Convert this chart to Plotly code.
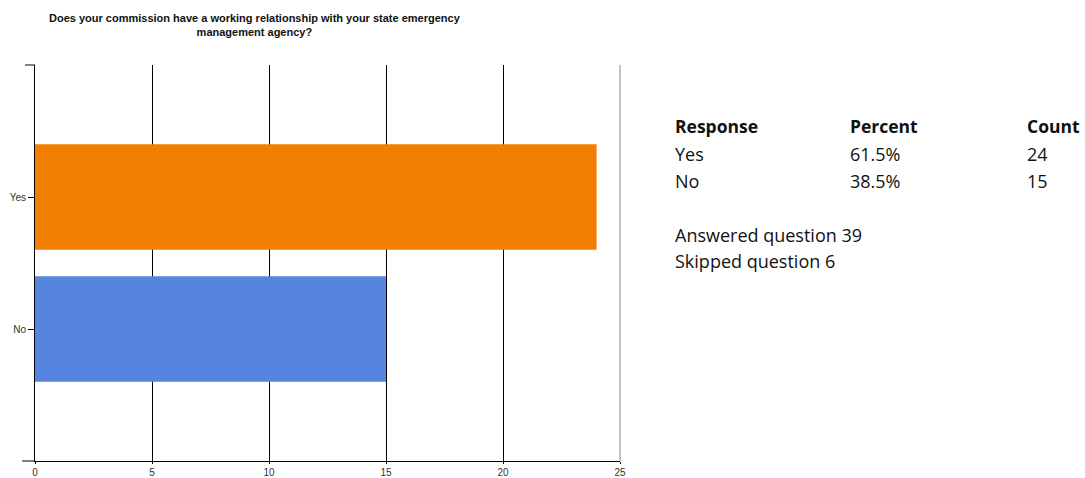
import plotly.graph_objects as go

categories = ["Yes", "No"]
counts = [24, 15]
percents = ["61.5%", "38.5%"]
bar_colors = ["#F27F02", "#5585DF"]
answered = 39
skipped = 6
x_ticks = [0, 5, 10, 15, 20, 25]

W, H = 1085, 478
L, R, T, B = 35, 620, 65, 461

fig = go.Figure()
fig.add_trace(go.Bar(
    x=counts, y=[1, 0], orientation="h", width=0.8,
    marker=dict(color=bar_colors, line=dict(width=0)),
    hoverinfo="skip", showlegend=False,
))

def px(xp):
    return (xp - L) / (R - L)

def py(yp):
    return (B - yp) / (B - T)

ann = []
ann.append(dict(text="<b>Does your commission have a working relationship with your state emergency<br>management agency?</b>",
                x=px(255), y=py(25), xref="paper", yref="paper", showarrow=False,
                font=dict(family="Liberation Sans", size=11, color="#111"),
                xanchor="center", yanchor="middle", align="center"))

tf = dict(family="Open Sans", size=18, color="#111")
hf = dict(family="Open Sans", size=17.5, color="#111")
cols = [673, 848, 1025]
heads = ["<b>Response</b>", "<b>Percent</b>", "<b>Count</b>"]
for cx, h in zip(cols, heads):
    ann.append(dict(text=h, x=px(cx), y=py(126), xref="paper", yref="paper", showarrow=False,
                    font=hf, xanchor="left", yanchor="middle"))
for i, (c, p, n) in enumerate(zip(categories, percents, counts)):
    yy = 154 + i * 27
    for cx, t in zip(cols, [c, p, str(n)]):
        ann.append(dict(text=t, x=px(cx), y=py(yy), xref="paper", yref="paper", showarrow=False,
                        font=tf, xanchor="left", yanchor="middle"))
ann.append(dict(text=f"Answered question {answered}", x=px(673), y=py(235), xref="paper", yref="paper",
                showarrow=False, font=tf, xanchor="left", yanchor="middle"))
ann.append(dict(text=f"Skipped question {skipped}", x=px(673), y=py(261), xref="paper", yref="paper",
                showarrow=False, font=tf, xanchor="left", yanchor="middle"))

fig.update_layout(
    width=W, height=H,
    margin=dict(l=L, r=W - R, t=T, b=H - B),
    paper_bgcolor="white", plot_bgcolor="white",
    annotations=ann,
    xaxis=dict(range=[0, 25], tickvals=x_ticks, ticktext=[str(v) for v in x_ticks],
               automargin=False,
               showgrid=True, gridcolor="#000", gridwidth=1, zeroline=False,
               showline=True, linecolor="#000", linewidth=1,
               ticks="outside", ticklen=2, tickcolor="#000",
               tickfont=dict(family="Liberation Sans", size=10, color="#333")),
    yaxis=dict(range=[-1, 2], tickvals=[1, 0], ticktext=categories,
               automargin=False,
               showgrid=False, zeroline=False,
               showline=True, linecolor="#000", linewidth=1,
               ticks="outside", ticklen=6, tickcolor="#000",
               tickfont=dict(family="Liberation Sans", size=10, color="#333")),
    shapes=[
        dict(type="line", xref="paper", yref="paper", x0=-13 / (R - L), x1=0, y0=0, y1=0,
             line=dict(color="#000", width=1)),
        dict(type="line", xref="paper", yref="paper", x0=-10 / (R - L), x1=0, y0=1, y1=1,
             line=dict(color="#000", width=1)),
        dict(type="line", xref="paper", yref="paper", x0=1, x1=1, y0=0, y1=1,
             line=dict(color="#888", width=1)),
    ],
)

fig.write_html("out.html")
